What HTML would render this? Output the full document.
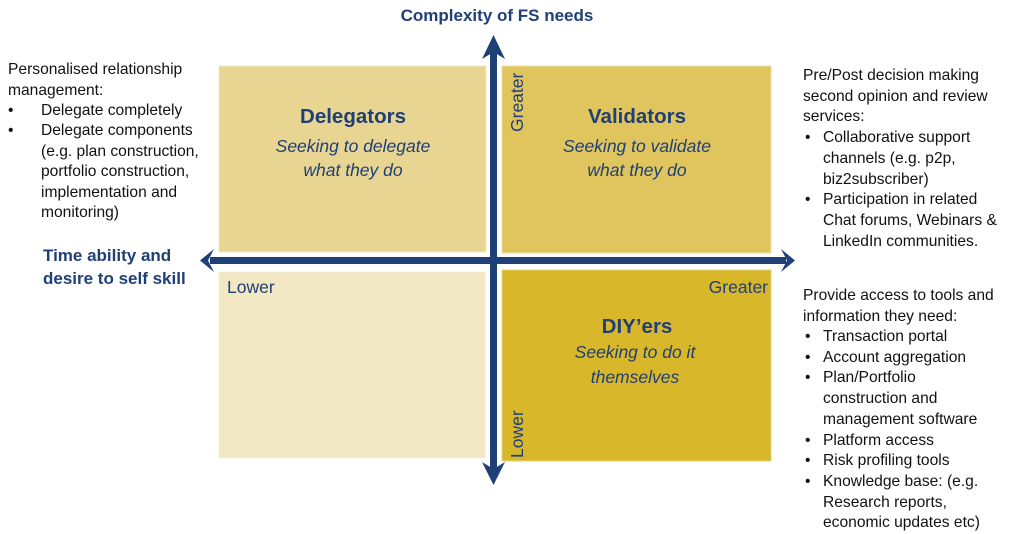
<!DOCTYPE html>
<html>
<head>
<meta charset="utf-8">
<style>
html,body{margin:0;padding:0;background:#fff;}
svg{display:block;}
.body{font-family:"Liberation Sans",sans-serif;font-size:15.6px;fill:#111;}
.hb{font-family:"Liberation Sans",sans-serif;font-weight:bold;font-size:17px;fill:#1F3F77;}
.tt{font-family:"Liberation Sans",sans-serif;font-weight:bold;font-size:20.5px;fill:#1F3F77;}
.it{font-family:"Liberation Sans",sans-serif;font-style:italic;font-size:17.5px;fill:#1F3F77;}
.lb{font-family:"Liberation Sans",sans-serif;font-size:17.5px;fill:#1F3F77;}
</style>
</head>
<body>
<svg width="1019" height="534" viewBox="0 0 1019 534" xmlns="http://www.w3.org/2000/svg">
  <!-- quadrants -->
  <rect x="219" y="66" width="267" height="186" fill="#E8D591" stroke="#F3EAC6" stroke-width="1"/>
  <rect x="502" y="66" width="269" height="187" fill="#E0C55E" stroke="#EEDDA0" stroke-width="1"/>
  <rect x="219" y="272" width="266" height="186" fill="#F2E8C4" stroke="#F7F0DA" stroke-width="1"/>
  <rect x="502" y="270" width="269" height="191" fill="#D9B72B" stroke="#E8D27A" stroke-width="1"/>

  <!-- axes -->
  <line x1="493.5" y1="48" x2="493.5" y2="472" stroke="#1F3F77" stroke-width="7"/>
  <line x1="210" y1="260.5" x2="786" y2="260.5" stroke="#1F3F77" stroke-width="7"/>
  <polygon points="493.5,35 505,59 493.5,52 482,59" fill="#1F3F77"/>
  <polygon points="493.5,485 505,462 493.5,469 482,462" fill="#1F3F77"/>
  <polygon points="200,260.5 214,249 208,260.5 214,272" fill="#1F3F77"/>
  <polygon points="795,260.5 781,249 787,260.5 781,272" fill="#1F3F77"/>

  <!-- title -->
  <text class="hb" x="497" y="21" text-anchor="middle">Complexity of FS needs</text>
  <text class="hb" x="43" y="261">Time ability and</text>
  <text class="hb" x="43" y="284">desire to self skill</text>

  <!-- quadrant text -->
  <text class="tt" x="353" y="123" text-anchor="middle">Delegators</text>
  <text class="it" x="353" y="152" text-anchor="middle">Seeking to delegate</text>
  <text class="it" x="353" y="176" text-anchor="middle">what they do</text>

  <text class="tt" x="637" y="123" text-anchor="middle">Validators</text>
  <text class="it" x="637" y="152" text-anchor="middle">Seeking to validate</text>
  <text class="it" x="637" y="176" text-anchor="middle">what they do</text>

  <text class="tt" x="637" y="333" text-anchor="middle">DIY’ers</text>
  <text class="it" x="635" y="358" text-anchor="middle">Seeking to do it</text>
  <text class="it" x="635" y="383" text-anchor="middle">themselves</text>

  <text class="lb" x="227" y="293">Lower</text>
  <text class="lb" x="768" y="293" text-anchor="end">Greater</text>
  <text class="lb" transform="translate(523,132) rotate(-90)">Greater</text>
  <text class="lb" transform="translate(523,458) rotate(-90)">Lower</text>

  <!-- left text -->
  <g class="body">
    <text x="8" y="74">Personalised relationship</text>
    <text x="8" y="95">management:</text>
    <text x="8" y="115">•</text><text x="41" y="115">Delegate completely</text>
    <text x="8" y="135">•</text><text x="41" y="135">Delegate components</text>
    <text x="41" y="156">(e.g. plan construction,</text>
    <text x="41" y="176">portfolio construction,</text>
    <text x="41" y="197">implementation and</text>
    <text x="41" y="217">monitoring)</text>
  </g>

  <!-- right top text -->
  <g class="body">
    <text x="803" y="80">Pre/Post decision making</text>
    <text x="803" y="101">second opinion and review</text>
    <text x="803" y="121">services:</text>
    <text x="805" y="142">•</text><text x="823" y="142">Collaborative support</text>
    <text x="823" y="163">channels (e.g. p2p,</text>
    <text x="823" y="184">biz2subscriber)</text>
    <text x="805" y="204">•</text><text x="823" y="204">Participation in related</text>
    <text x="823" y="225">Chat forums, Webinars &amp;</text>
    <text x="823" y="246">LinkedIn communities.</text>
  </g>

  <!-- right bottom text -->
  <g class="body">
    <text x="803" y="300">Provide access to tools and</text>
    <text x="803" y="321">information they need:</text>
    <text x="805" y="341">•</text><text x="823" y="341">Transaction portal</text>
    <text x="805" y="362">•</text><text x="823" y="362">Account aggregation</text>
    <text x="805" y="382">•</text><text x="823" y="382">Plan/Portfolio</text>
    <text x="823" y="403">construction and</text>
    <text x="823" y="424">management software</text>
    <text x="805" y="445">•</text><text x="823" y="445">Platform access</text>
    <text x="805" y="465">•</text><text x="823" y="465">Risk profiling tools</text>
    <text x="805" y="486">•</text><text x="823" y="486">Knowledge base: (e.g.</text>
    <text x="823" y="507">Research reports,</text>
    <text x="823" y="527">economic updates etc)</text>
  </g>
</svg>
</body>
</html>
